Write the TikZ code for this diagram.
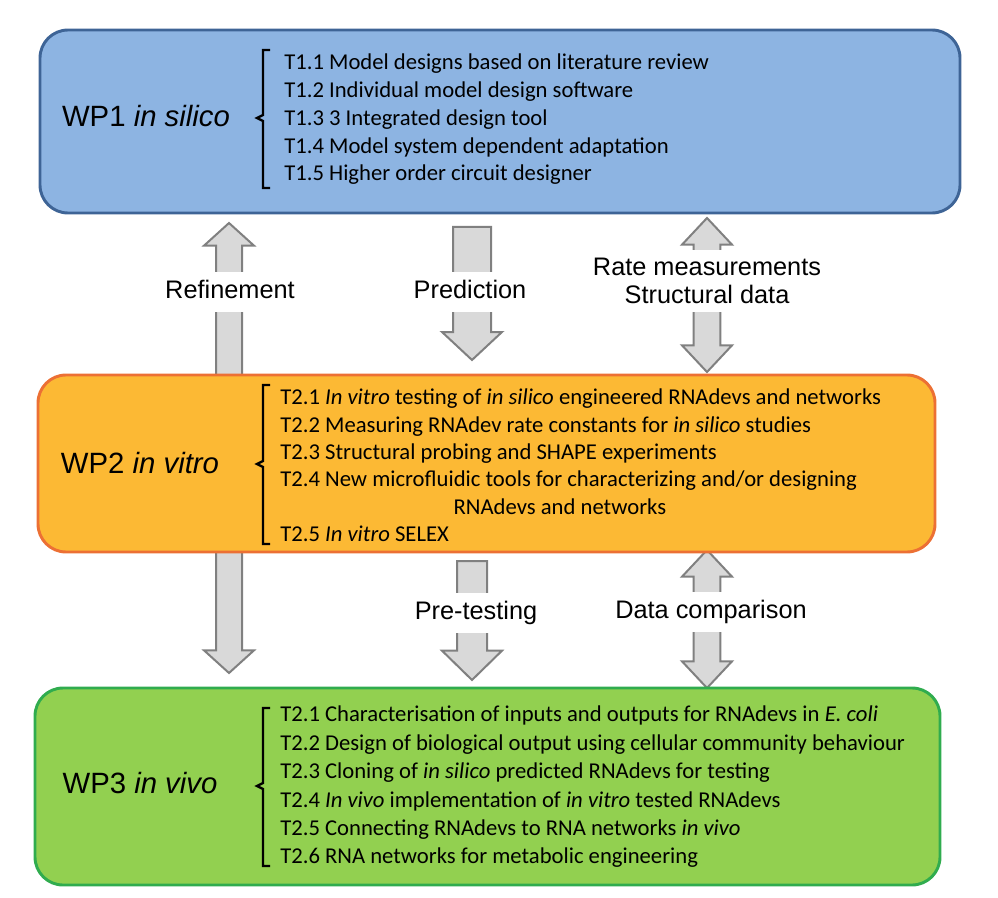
\documentclass[tikz,border=0pt]{standalone}
\usepackage{fontspec}
\setmainfont{Liberation Sans}
\newfontfamily\taskfont{Carlito}
\usetikzlibrary{calc,backgrounds,positioning}

\definecolor{wponefill}{RGB}{141,180,226}
\definecolor{wponeline}{RGB}{62,100,150}
\definecolor{wptwofill}{RGB}{252,185,52}
\definecolor{wptwoline}{RGB}{236,112,52}
\definecolor{wpthreefill}{RGB}{146,208,80}
\definecolor{wpthreeline}{RGB}{48,172,78}
\definecolor{arrowfill}{RGB}{217,217,217}
\definecolor{arrowline}{RGB}{128,128,128}

\tikzset{
  wpbox/.style={
    rectangle, rounded corners=21pt, line width=2.2pt, inner sep=0pt
  },
  wplabel/.style={font=\fontsize{22}{26}\selectfont, inner sep=0pt},
  tasklist/.style={
    anchor=west, align=left, inner sep=0pt,
    font=\taskfont\fontsize{17}{20.8}\selectfont
  },
  flowlabel/.style={
    fill=white, font=\fontsize{19}{20.5}\selectfont, inner xsep=2pt,
    inner ysep=6pt, text height=14pt, text depth=4pt
  },
  flowlabeltwo/.style={
    fill=white, font=\fontsize{19}{20.5}\selectfont, align=center,
    inner xsep=2pt, inner ysep=6pt
  },
  blockarr/.style={draw=arrowline, fill=arrowfill, line width=1.5pt, line join=miter},
  bracket/.style={line width=1.8pt, line join=miter}
}

% block arrow: tail, tip, half shaft, half head, head length
\newcommand{\blockarrow}[5]{%
  \draw[blockarr] ($(#1)!#3!90:(#2)$) -- ($($(#2)!#5!(#1)$)!#3!90:(#2)$)
    -- ($($(#2)!#5!(#1)$)!#4!90:(#2)$) -- (#2)
    -- ($($(#2)!#5!(#1)$)!#4!-90:(#2)$) -- ($($(#2)!#5!(#1)$)!#3!-90:(#2)$)
    -- ($(#1)!#3!-90:(#2)$) -- cycle;}
% double block arrow: tip, tip, half shaft, half head, head length
\newcommand{\dblockarrow}[5]{%
  \draw[blockarr] (#1) -- ($($(#1)!#5!(#2)$)!#4!90:(#2)$)
    -- ($($(#1)!#5!(#2)$)!#3!90:(#2)$) -- ($($(#2)!#5!(#1)$)!#3!90:(#2)$)
    -- ($($(#2)!#5!(#1)$)!#4!90:(#2)$) -- (#2)
    -- ($($(#2)!#5!(#1)$)!#4!-90:(#2)$) -- ($($(#2)!#5!(#1)$)!#3!-90:(#2)$)
    -- ($($(#1)!#5!(#2)$)!#3!-90:(#2)$) -- ($($(#1)!#5!(#2)$)!#4!-90:(#2)$)
    -- cycle;}

\begin{document}
\begin{tikzpicture}[x=0.75pt, y=-0.75pt]
  \useasboundingbox (0,0) rectangle (998,898);

  % work packages
  \node[wpbox, draw=wponeline, fill=wponefill, minimum width=690pt,
        minimum height=137.25pt] (wp1) at (500,121.5) {};
  \node[wpbox, draw=wptwoline, fill=wptwofill, minimum width=672.75pt,
        minimum height=132.75pt] (wp2) at (486.5,463.5) {};
  \node[wpbox, draw=wpthreeline, fill=wpthreefill, minimum width=678.75pt,
        minimum height=147.75pt] (wp3) at (487.5,786.5) {};

  \node[wplabel] (wp1name) at (146,116) {WP1 \textit{in silico}};
  \node[wplabel] (wp2name) at (140,463) {WP2 \textit{in vitro}};
  \node[wplabel] (wp3name) at (140,783) {WP3 \textit{in vivo}};

  \draw[bracket] (270,50) -- (263,50) -- (263,115) -- (257,118) -- (263,121)
    -- (263,188) -- (270,188);
  \draw[bracket] (270,385) -- (263,385) -- (263,461) -- (257,464) -- (263,467)
    -- (263,544) -- (270,544);
  \draw[bracket] (270,708) -- (263,708) -- (263,783) -- (257,786) -- (263,789)
    -- (263,866) -- (270,866);

  \node[tasklist] (tasks1) at (284,119.5) {%
    T1.1 Model designs based on literature review\\
    T1.2 Individual model design software\\
    T1.3 3 Integrated design tool\\
    T1.4 Model system dependent adaptation\\
    T1.5 Higher order circuit designer};
  \node[tasklist, font=\taskfont\fontsize{17}{20.55}\selectfont] (tasks2)
    at (280,465.5) {%
    T2.1 \textit{In vitro} testing of \textit{in silico} engineered RNAdevs and networks\\
    T2.2 Measuring RNAdev rate constants for \textit{in silico} studies\\
    T2.3 Structural probing and SHAPE experiments\\
    T2.4 New microfluidic tools for characterizing and/or designing\\
    \hspace*{130pt}RNAdevs and networks\\
    T2.5 \textit{In vitro} SELEX};
  \node[tasklist, font=\taskfont\fontsize{17}{21.3}\selectfont] (tasks3)
    at (280,787) {%
    T2.1 Characterisation of inputs and outputs for RNAdevs in \textit{E. coli}\\
    T2.2 Design of biological output using cellular community behaviour\\
    T2.3 Cloning of \textit{in silico} predicted RNAdevs for testing\\
    T2.4 \textit{In vivo} implementation of \textit{in vitro} tested RNAdevs\\
    T2.5 Connecting RNAdevs to RNA networks \textit{in vivo}\\
    T2.6 RNA networks for metabolic engineering};

  % arrow ends
  \coordinate (refup) at (229,223);
  \coordinate (refdown) at (229,673);
  \coordinate (predtop) at (472,227);
  \coordinate (predtip) at (472,360);
  \coordinate (rateup) at (707,218);
  \coordinate (ratedown) at (707,372);
  \coordinate (pretop) at (472,561);
  \coordinate (pretip) at (472,680);
  \coordinate (dataup) at (707,550);
  \coordinate (datadown) at (707,688);

  \begin{scope}[on background layer]
    \dblockarrow{refup}{refdown}{9.75pt}{18.75pt}{17pt}
    \blockarrow{predtop}{predtip}{14.25pt}{22.5pt}{21pt}
    \dblockarrow{rateup}{ratedown}{10pt}{18.75pt}{20pt}
    \blockarrow{pretop}{pretip}{11.25pt}{22.5pt}{22pt}
    \dblockarrow{dataup}{datadown}{10pt}{18.75pt}{20pt}
  \end{scope}

  \node[flowlabel] (refine) at (230,292) {Refinement};
  \node[flowlabel] (predict) at (470,292) {Prediction};
  \node[flowlabeltwo] (rates) at (707,281) {Rate measurements\\Structural data};
  \node[flowlabel] (pretest) at (476,613) {Pre-testing};
  \node[flowlabel] (compare) at (711,612) {Data comparison};
\end{tikzpicture}
\end{document}
